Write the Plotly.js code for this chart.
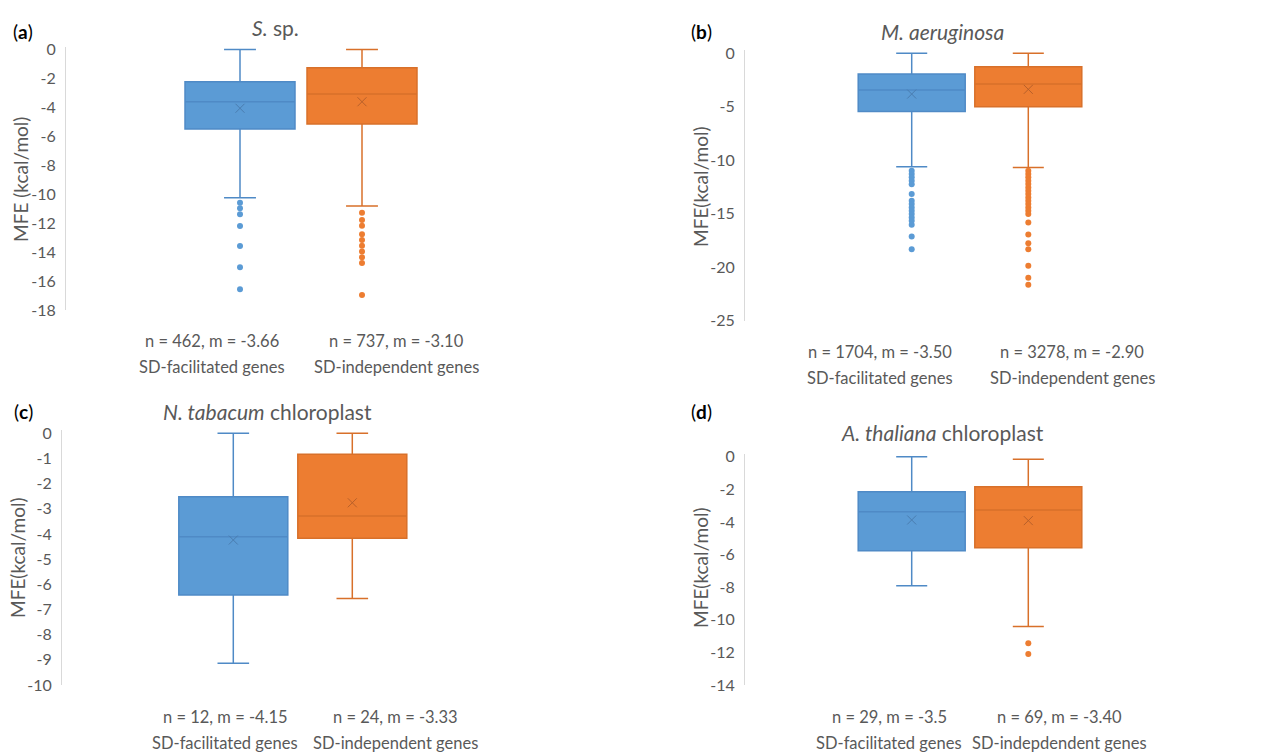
<!DOCTYPE html>
<html>
<head>
<meta charset="utf-8">
<script src="https://cdn.plot.ly/plotly-3.0.1.min.js"></script>
<style>
html,body{margin:0;padding:0;background:#fff;}
#chart{width:1288px;height:753px;}
</style>
</head>
<body>
<div id="chart"></div>
<script>
// ---------------- DATA ----------------
const groupKeys = ['SD-facilitated', 'SD-independent'];

// Panel (a) S. sp.
const a_title = '<i>S.</i> sp.';
const a_ytitle = 'MFE (kcal/mol)';
const a_line1 = ['n = 462, m = -3.66', 'n = 737, m = -3.10'];
const a_line2 = ['SD-facilitated genes', 'SD-independent genes'];
const a_q1 = [-5.49, -5.15];
const a_median = [-3.61, -3.08];
const a_q3 = [-2.23, -1.26];
const a_lower = [-10.24, -10.82];
const a_upper = [0, 0];
const a_mean = [-4.06, -3.61];
const a_out_fac = [-10.59, -10.97, -11.39, -12.2, -13.58, -15.05, -16.57];
const a_out_ind = [-11.28, -11.78, -12.18, -12.77, -13.17, -13.56, -13.95, -14.36, -14.75, -16.97];
const a_yticks = [0, -2, -4, -6, -8, -10, -12, -14, -16, -18];

// Panel (b) M. aeruginosa
const b_title = '<i>M. aeruginosa</i>';
const b_ytitle = 'MFE(kcal/mol)';
const b_line1 = ['n = 1704, m = -3.50', 'n = 3278, m = -2.90'];
const b_line2 = ['SD-facilitated genes', 'SD-independent genes'];
const b_q1 = [-5.43, -5.0];
const b_median = [-3.43, -2.87];
const b_q3 = [-1.94, -1.25];
const b_lower = [-10.6, -10.67];
const b_upper = [0, 0];
const b_mean = [-3.81, -3.37];
const b_out_fac = [-10.98, -11.29, -11.6, -11.92, -12.25, -13.16, -13.79, -14.1, -14.41, -14.73, -15.03, -15.35, -15.66, -16.03, -17.12, -18.33];
const b_out_ind = [-10.98, -11.29, -11.6, -11.92, -12.23, -12.54, -12.85, -13.16, -13.47, -13.79, -14.1, -14.41, -14.72, -15.03, -15.81, -16.93, -17.77, -18.33, -19.87, -20.99, -21.65];
const b_yticks = [0, -5, -10, -15, -20, -25];

// Panel (c) N. tabacum chloroplast
const c_title = '<i>N. tabacum</i> chloroplast';
const c_ytitle = 'MFE(kcal/mol)';
const c_line1 = ['n = 12, m = -4.15', 'n = 24, m = -3.33'];
const c_line2 = ['SD-facilitated genes', 'SD-independent genes'];
const c_q1 = [-6.42, -4.17];
const c_median = [-4.11, -3.29];
const c_q3 = [-2.52, -0.83];
const c_lower = [-9.14, -6.56];
const c_upper = [0, 0];
const c_mean = [-4.24, -2.76];
const c_out_fac = [];
const c_out_ind = [];
const c_yticks = [0, -1, -2, -3, -4, -5, -6, -7, -8, -9, -10];

// Panel (d) A. thaliana chloroplast
const d_title = '<i>A. thaliana</i> chloroplast';
const d_ytitle = 'MFE(kcal/mol)';
const d_line1 = ['n = 29, m = -3.5', 'n = 69, m = -3.40'];
const d_line2 = ['SD-facilitated genes', 'SD-indepdendent genes'];
const d_q1 = [-5.76, -5.58];
const d_median = [-3.37, -3.27];
const d_q3 = [-2.15, -1.84];
const d_lower = [-7.91, -10.42];
const d_upper = [0, -0.16];
const d_mean = [-3.88, -3.92];
const d_out_fac = [];
const d_out_ind = [-11.44, -12.1];
const d_yticks = [0, -2, -4, -6, -8, -10, -12, -14];

// ---------------- STYLE / LAYOUT ----------------
const W = 1288, H = 753;
const FONT = 'Lato, "Open Sans", sans-serif';
const GRAY = '#595959';
const fill = ['#5B9BD5', '#ED7D31'];
const lineCol = ['#4F8AC6', '#D8702A'];
const meanCol = ['#4A7DB0', '#B8602A'];

// pixel geometry of each panel
const panels = [
  {lab:'a', title:a_title, yt:a_ytitle, l1:a_line1, l2:a_line2, q1:a_q1, med:a_median, q3:a_q3, lo:a_lower, up:a_upper, mean:a_mean,
   out:[a_out_fac, a_out_ind], ticks:a_yticks,
   axisX:66, rightX:536, c0:240, c1:362, boxPx:110, y0px:49.5, yMinPx:310,
   titlePos:[275,28], labPos:[23,32], ytPos:[20,180], l1y:340.7, l2y:366.7, lx:[211.5,396]},
  {lab:'b', title:b_title, yt:b_ytitle, l1:b_line1, l2:b_line2, q1:b_q1, med:b_median, q3:b_q3, lo:b_lower, up:b_upper, mean:b_mean,
   out:[b_out_fac, b_out_ind], ticks:b_yticks,
   axisX:745, rightX:1195, c0:911.7, c1:1028.3, boxPx:107, y0px:53.3, yMinPx:320.7,
   titlePos:[943,32], labPos:[701,32], ytPos:[700,187], l1y:351.7, l2y:378, lx:[880,1072]},
  {lab:'c', title:c_title, yt:c_ytitle, l1:c_line1, l2:c_line2, q1:c_q1, med:c_median, q3:c_q3, lo:c_lower, up:c_upper, mean:c_mean,
   out:[c_out_fac, c_out_ind], ticks:c_yticks,
   axisX:62, rightX:523, c0:233.3, c1:352.3, boxPx:109, y0px:433.3, yMinPx:685,
   titlePos:[267,411.7], labPos:[23,412], ytPos:[17,558], l1y:716.7, l2y:743.3, lx:[225,395]},
  {lab:'d', title:d_title, yt:d_ytitle, l1:d_line1, l2:d_line2, q1:d_q1, med:d_median, q3:d_q3, lo:d_lower, up:d_upper, mean:d_mean,
   out:[d_out_fac, d_out_ind], ticks:d_yticks,
   axisX:745, rightX:1195, c0:911.7, c1:1028.3, boxPx:107, y0px:456.7, yMinPx:685,
   titlePos:[943,432.7], labPos:[701,411.7], ytPos:[700,568], l1y:716.7, l2y:743.3, lx:[889,1059]}
];

const traces = [];
const layout = {
  width: W, height: H,
  margin: {l:0, r:0, t:0, b:0},
  paper_bgcolor: '#fff', plot_bgcolor: 'rgba(0,0,0,0)',
  showlegend: false,
  boxmode: 'overlay',
  font: {family: FONT, color: GRAY},
  annotations: []
};

const px = v => v / W;
const py = v => 1 - v / H;

panels.forEach((p, i) => {
  const sfx = i === 0 ? '' : String(i + 1);
  const xa = 'x' + sfx, ya = 'y' + sfx;
  const yMin = Math.min(...p.ticks), yMax = Math.max(...p.ticks);
  const ppu = (p.yMinPx - p.y0px) / (yMax - yMin);
  const padPx = 3;
  const spacing = p.c1 - p.c0;

  layout['xaxis' + sfx] = {
    domain: [px(p.axisX), px(p.rightX)],
    range: [(p.axisX - p.c0) / spacing, (p.rightX - p.c0) / spacing],
    anchor: ya, type: 'category', categoryarray: groupKeys,
    showline: false, showgrid: false, zeroline: false, showticklabels: false, ticks: '', fixedrange: true
  };
  layout['yaxis' + sfx] = {
    domain: [py(p.yMinPx), py(p.y0px - padPx)],
    range: [yMin, yMax + padPx / ppu],
    anchor: xa,
    showline: true, linecolor: '#D9D9D9', linewidth: 1,
    showgrid: false, zeroline: false, ticks: '',
    tickvals: p.ticks, ticktext: p.ticks.map(v => String(v)),
    tickfont: {family: FONT, size: 16, color: GRAY},
    ticklabelstandoff: 6, fixedrange: true
  };

  for (let g = 0; g < 2; g++) {
    traces.push({
      type: 'box', xaxis: xa, yaxis: ya,
      x: [groupKeys[g]],
      q1: [p.q1[g]], median: [p.med[g]], q3: [p.q3[g]],
      lowerfence: [p.lo[g]], upperfence: [p.up[g]],
      boxpoints: false,
      width: p.boxPx / spacing,
      whiskerwidth: 0.29,
      fillcolor: fill[g],
      line: {color: lineCol[g], width: 1.5},
      hoverinfo: 'skip'
    });
    if (p.out[g].length) {
      traces.push({
        type: 'scatter', mode: 'markers', xaxis: xa, yaxis: ya,
        x: p.out[g].map(() => groupKeys[g]), y: p.out[g],
        marker: {color: fill[g], size: 6, symbol: 'circle'},
        hoverinfo: 'skip', cliponaxis: false
      });
    }
    traces.push({
      type: 'scatter', mode: 'markers', xaxis: xa, yaxis: ya,
      x: [groupKeys[g]], y: [p.mean[g]],
      marker: {symbol: 'x-thin', size: 9, line: {color: meanCol[g], width: 1}, color: meanCol[g]},
      hoverinfo: 'skip'
    });

    // category labels (two lines)
    layout.annotations.push({
      xref: 'paper', yref: 'paper', x: px(p.lx[g]), y: py(p.l1y),
      xanchor: 'center', yanchor: 'middle', showarrow: false,
      text: p.l1[g], font: {family: FONT, size: 16.5, color: GRAY}
    });
    layout.annotations.push({
      xref: 'paper', yref: 'paper', x: px(p.lx[g]), y: py(p.l2y),
      xanchor: 'center', yanchor: 'middle', showarrow: false,
      text: p.l2[g], font: {family: FONT, size: 16.5, color: GRAY}
    });
  }

  // panel title
  layout.annotations.push({
    xref: 'paper', yref: 'paper', x: px(p.titlePos[0]), y: py(p.titlePos[1]),
    xanchor: 'center', yanchor: 'middle', showarrow: false,
    text: p.title, font: {family: FONT, size: 21, color: GRAY}
  });
  // panel letter
  layout.annotations.push({
    xref: 'paper', yref: 'paper', x: px(p.labPos[0]), y: py(p.labPos[1]),
    xanchor: 'center', yanchor: 'middle', showarrow: false,
    text: '(<b>' + p.lab + '</b>)', font: {family: FONT, size: 19, color: '#000'}
  });
  // y-axis title
  layout.annotations.push({
    xref: 'paper', yref: 'paper', x: px(p.ytPos[0]), y: py(p.ytPos[1]),
    xanchor: 'center', yanchor: 'middle', showarrow: false, textangle: -90,
    text: p.yt, font: {family: FONT, size: 19, color: GRAY}
  });
});

Plotly.newPlot('chart', traces, layout, {staticPlot: true, displayModeBar: false});
</script>
</body>
</html>
